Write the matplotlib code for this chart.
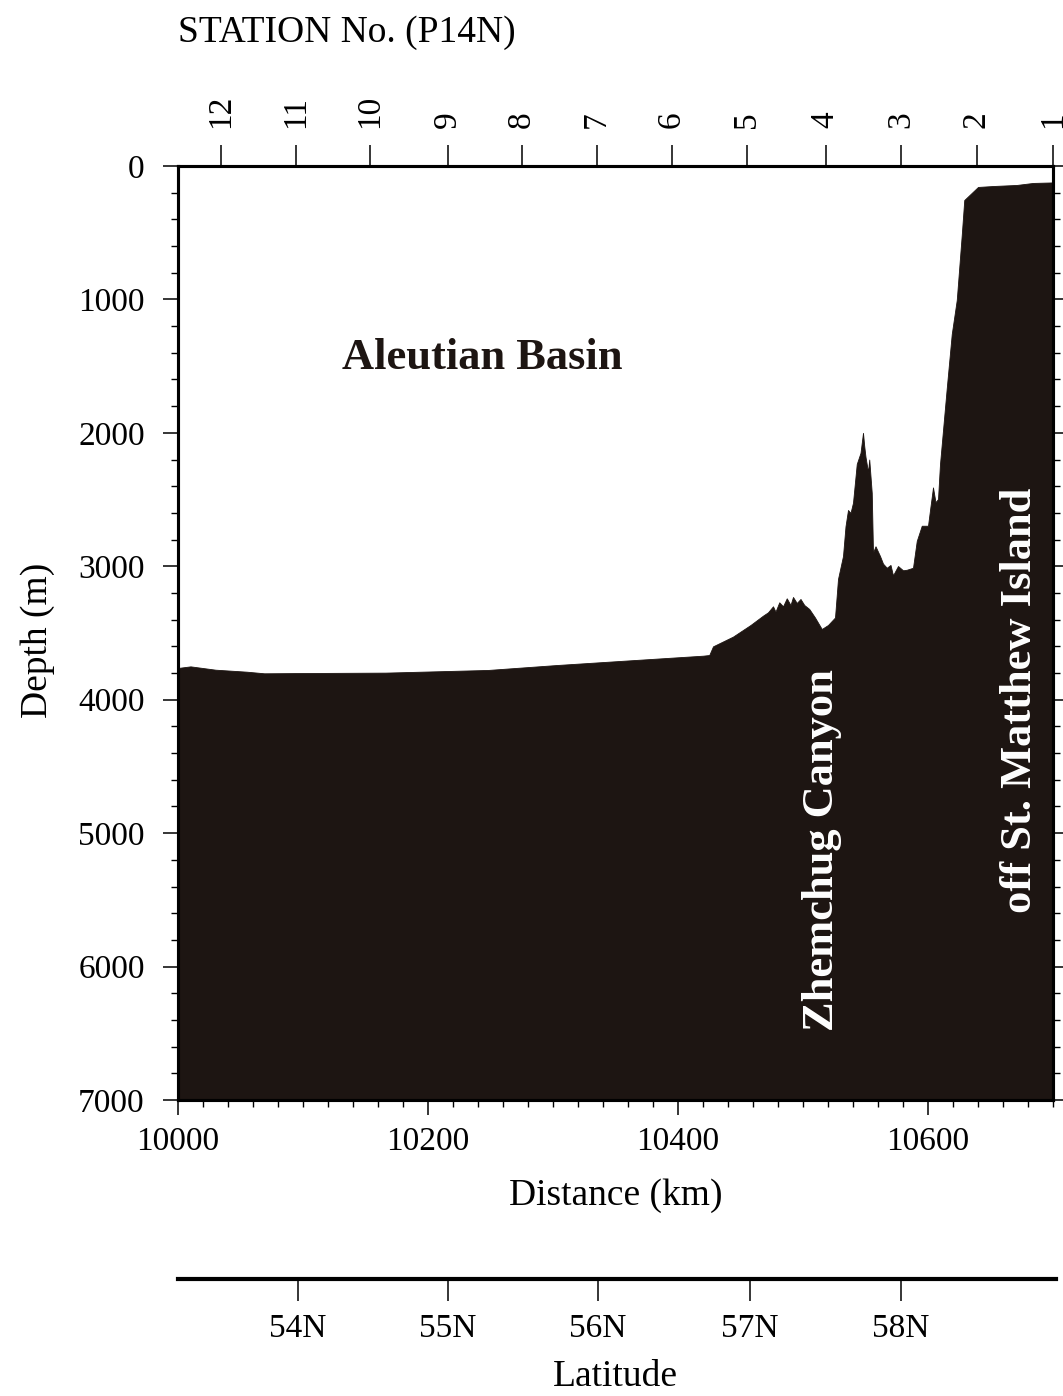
import matplotlib
matplotlib.use("Agg")
import matplotlib.pyplot as plt
from matplotlib.ticker import MultipleLocator

plt.rcParams['font.family'] = ['Liberation Serif', 'DejaVu Serif']

# ---- data ----
dist_km = [10000, 10010, 10030, 10055, 10069, 10100, 10166, 10248, 10303, 10358,
           10420, 10425, 10428, 10444, 10458, 10468, 10472, 10476, 10478, 10481,
           10484, 10487, 10490, 10492, 10495, 10498, 10501, 10505, 10509.6, 10515,
           10520, 10525.6, 10528, 10532, 10534, 10536, 10538, 10540, 10543, 10546,
           10548, 10549, 10550, 10552, 10553, 10555, 10556, 10558, 10561.6, 10564,
           10567, 10570, 10572, 10576, 10580, 10583, 10588, 10591, 10595, 10600,
           10602, 10604, 10606, 10608, 10609.6, 10615, 10619, 10623, 10627, 10629,
           10633.6, 10640, 10652, 10671, 10684, 10700]
depth_m = [3762, 3750, 3775, 3790, 3802, 3800, 3797, 3777, 3740, 3707,
           3670, 3665, 3600, 3527, 3440, 3370, 3345, 3300, 3340, 3270,
           3300, 3240, 3290, 3230, 3275, 3245, 3290, 3320, 3384, 3470,
           3440, 3384, 3095, 2923, 2700, 2578, 2600, 2523, 2233, 2150,
           2000, 2100, 2180, 2293, 2200, 2450, 2897, 2850, 2923, 2980,
           3011, 2990, 3068, 2998, 3030, 3026, 3011, 2810, 2696, 2696,
           2550, 2409, 2520, 2496, 2233, 1664, 1259, 1004, 516, 255,
           214, 157, 150, 142, 127, 123]

station_km = [10034.4, 10094, 10153.6, 10215.7, 10274.9, 10335, 10395, 10455,
              10518, 10578.6, 10639, 10700]
station_labels = ['12', '11', '10', '9', '8', '7', '6', '5', '4', '3', '2', '1']

lat_km = [10096, 10216, 10336, 10457.6, 10578.4]
lat_labels = ['54N', '55N', '56N', '57N', '58N']

x_major = [10000, 10200, 10400, 10600]
y_major = [0, 1000, 2000, 3000, 4000, 5000, 6000, 7000]

fill_color = '#1d1512'

W, H = 1063, 1396
fig = plt.figure(figsize=(W / 100, H / 100), dpi=100)

L = 178 / W
R = 1053 / W
B = 1 - 1100 / H
T = 1 - 166 / H
ax = fig.add_axes([L, B, R - L, T - B])

ax.fill_between(dist_km, depth_m, 7000, color=fill_color, linewidth=0.6,
                edgecolor=fill_color)
ax.set_xlim(10000, 10700)
ax.set_ylim(7000, 0)

ax.set_xticks(x_major)
ax.set_xticklabels([str(v) for v in x_major])
ax.xaxis.set_minor_locator(MultipleLocator(20))
ax.set_yticks(y_major)
ax.set_yticklabels([str(v) for v in y_major])
ax.yaxis.set_minor_locator(MultipleLocator(200))

for s in ax.spines.values():
    s.set_linewidth(2.2)
ax.tick_params(axis='both', which='major', direction='out', length=11,
               width=1.1, labelsize=24, pad=8)
ax.tick_params(axis='both', which='minor', direction='out', length=5, width=1.0)
ax.tick_params(axis='y', which='major', pad=13)
ax.tick_params(axis='y', which='both', right=True)
ax.tick_params(axis='x', which='both', top=False)

# station axis on top
axt = ax.twiny()
axt.set_xlim(10000, 10700)
axt.set_xticks(station_km)
axt.set_xticklabels(station_labels, rotation=90)
axt.tick_params(axis='x', direction='out', length=15, width=1.1,
                labelsize=24, pad=12)
axt.xaxis.set_minor_locator(plt.NullLocator())
for s in axt.spines.values():
    s.set_linewidth(2.2)

# annotations
ax.text(10243, 1440, 'Aleutian Basin', fontsize=32, fontweight='bold',
        ha='center', va='center', color='#1d1512')
ax.text(10515, 5126, 'Zhemchug Canyon', fontsize=32, fontweight='bold',
        ha='center', va='center', color='white', rotation=90)
ax.text(10673.6, 4002, 'off St. Matthew Island', fontsize=32, fontweight='bold',
        ha='center', va='center', color='white', rotation=90)

# axis labels as figure text
fig.text(L, 1 - 33 / H, 'STATION No. (P14N)', fontsize=27, ha='left', va='center')
fig.text(38 / W, 1 - 640 / H, 'Depth (m)', fontsize=27, ha='center', va='center',
         rotation=90)
fig.text((L + R) / 2, 1 - 1196 / H, 'Distance (km)', fontsize=27,
         ha='center', va='center')

# latitude axis
yl = 1 - 1279 / H
axl = fig.add_axes([L, yl, 1056 / W - L, 0.0001])
axl.set_xlim(10000, 10702.4)
axl.set_ylim(0, 1)
for k in ['top', 'left', 'right']:
    axl.spines[k].set_visible(False)
axl.spines['bottom'].set_linewidth(3.0)
axl.patch.set_visible(False)
axl.set_yticks([])
axl.set_xticks(lat_km)
axl.set_xticklabels(lat_labels)
axl.tick_params(axis='x', direction='out', length=16, width=1.1,
                labelsize=24, pad=9)
fig.text((L + R) / 2, 1 - 1377 / H, 'Latitude', fontsize=27,
         ha='center', va='center')

fig.savefig('out.png', dpi=100)
